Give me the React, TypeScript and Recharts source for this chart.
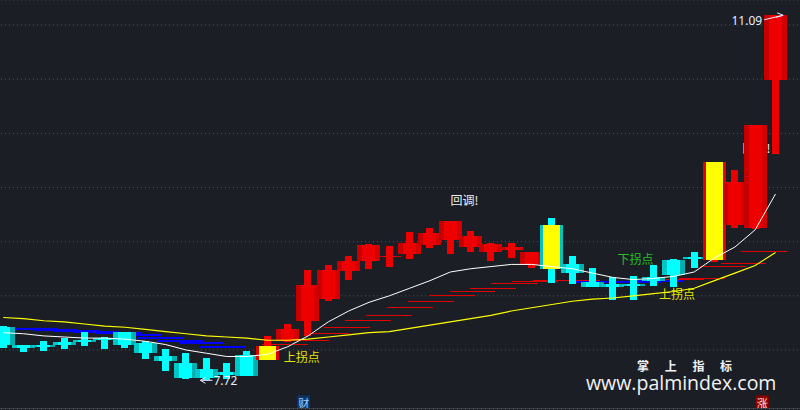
import React from 'react';
import {
  ComposedChart,
  Bar,
  Line,
  XAxis,
  YAxis,
  CartesianGrid,
  ReferenceLine,
  ReferenceDot,
} from 'recharts';

// candles, left to right
const open = [8.21, 8.05, 8.05, 8.07, 8.09, 8.11, 8.17, 8.06, 7.94, 7.88, 7.82, 7.8, 7.95, 7.91, 8.08, 8.27, 8.47, 8.73, 8.82, 8.86, 8.89, 8.97, 9.02, 9.05, 8.98, 8.95, 8.9, 9.15, 8.79, 8.63, 8.61, 8.61, 8.67, 8.83, 8.86, 8.83, 9.15, 9.13, 10.49];
const close = [8.05, 8.02, 8.03, 8.05, 8.07, 8.09, 8.05, 7.97, 7.9, 7.74, 7.74, 7.77, 7.76, 8.04, 8.19, 8.6, 8.74, 8.82, 8.97, 8.87, 8.99, 9.08, 9.19, 8.95, 8.9, 8.92, 8.78, 8.75, 8.71, 8.58, 8.58, 8.59, 8.64, 8.69, 8.84, 9.74, 9.55, 10.08, 11.09];
const high = [8.22, 8.05, 8.08, 8.11, 8.17, 8.12, 8.17, 8.08, 8.01, 7.97, 7.93, 7.88, 7.99, 8.13, 8.24, 8.74, 8.78, 8.87, 8.98, 8.96, 9.09, 9.13, 9.19, 9.1, 8.99, 8.99, 8.9, 9.22, 8.87, 8.76, 8.67, 8.68, 8.78, 8.84, 8.9, 9.74, 9.66, 10.08, 11.09];
const low = [8.02, 7.98, 7.99, 8.01, 8.04, 8.01, 8.02, 7.92, 7.81, 7.73, 7.72, 7.73, 7.76, 7.91, 8.07, 8.13, 8.45, 8.65, 8.75, 8.77, 8.84, 8.94, 8.89, 8.9, 8.82, 8.85, 8.76, 8.62, 8.61, 8.58, 8.46, 8.46, 8.59, 8.58, 8.76, 8.81, 9.13, 9.12, 9.81];
// c = cyan, r = red, yr / yc = yellow signal candle with red / cyan rim
const kind = ['c', 'c', 'c', 'c', 'c', 'c', 'c', 'c', 'c', 'c', 'c', 'c', 'c', 'yr', 'r', 'r', 'r', 'r', 'r', 'r', 'r', 'r', 'r', 'r', 'r', 'r', 'r', 'yc', 'c', 'c', 'c', 'c', 'c', 'c', 'c', 'yr', 'r', 'r', 'r'];

// white and yellow averages
const maFast = [8.16, 8.15, 8.13, 8.12, 8.11, 8.11, 8.1, 8.08, 8.05, 8.0, 7.97, 7.94, 7.94, 7.96, 8.03, 8.13, 8.26, 8.36, 8.44, 8.5, 8.57, 8.64, 8.72, 8.75, 8.77, 8.79, 8.79, 8.77, 8.75, 8.71, 8.67, 8.65, 8.66, 8.68, 8.72, 8.85, 8.95, 9.11, 9.44];
const maSlow = [8.3, 8.29, 8.27, 8.26, 8.24, 8.22, 8.21, 8.19, 8.17, 8.15, 8.13, 8.12, 8.11, 8.09, 8.09, 8.1, 8.12, 8.14, 8.16, 8.17, 8.2, 8.23, 8.26, 8.29, 8.32, 8.36, 8.39, 8.42, 8.45, 8.47, 8.48, 8.5, 8.52, 8.54, 8.57, 8.64, 8.71, 8.78, 8.9];

// short support levels drawn from each candle over the next two
const level = [8.2, 8.19, 8.18, 8.175, 8.17, 8.16, 8.14, 8.11, 8.08, 8.06, 8.03, null, null, 8.05, 8.09, 8.15, 8.21, 8.27, 8.32, 8.39, 8.45, 8.5, 8.54, 8.57, 8.61, 8.63, 8.64, 8.645, 8.63, 8.63, 8.625, 8.635, 8.65, 8.66, 8.77, 8.8, 8.91, 9.12, null];
const levelKind = ['b', 'b', 'b', 'b', 'b', 'b', 'b', 'b', 'b', 'b', 'b', '', '', 'r', 'r', 'r', 'r', 'r', 'r', 'r', 'r', 'r', 'r', 'r', 'r', 'r', 'r', 'r', 'b', 'b', 'b', 'b', 'r', 'r', 'r', 'r', 'r', 'r', ''];

const notes = [
  { i: 22, p: 9.385, text: '回调!' },
  { i: 36, p: 9.865, text: '回调!' },
  { i: 14, p: 7.944, text: '上拐点' },
  { i: 30, p: 8.849, text: '下拐点' },
  { i: 32, p: 8.517, text: '上拐点' },
];
const tags = [
  { i: 15, p: 7.515, text: '财' },
  { i: 37, p: 7.515, text: '涨' },
];
const gridTicks = [8, 8.5, 9, 9.5, 10, 10.5, 11];

const data = [
  ...open.map((o, i) => ({
    t: i,
    o,
    c: close[i],
    h: high[i],
    l: low[i],
    k: kind[i],
    range: [low[i], high[i]],
    ma1: maFast[i],
    ma2: maSlow[i],
  })),
  { t: open.length },
];

const BG = '#1b1e25';
const CJK = '"Noto Sans CJK SC", sans-serif';
const NOTE_COLOR: Record<string, string> = { '回调!': '#f0f0f0', '上拐点': '#e4e400', '下拐点': '#22c222' };
const TAG_STYLE: Record<string, { bg: string; fg: string }> = {
  '财': { bg: '#0b3566', fg: '#a9d2ff' },
  '涨': { bg: '#8a0000', fg: '#ffe0e0' },
};
const PALETTE: Record<string, any> = {
  r: { left: '#c60000', core: '#ee0000', right: '#d40000', wick: '#ee0000' },
  c: { left: '#00c8c8', core: '#00ffff', right: '#00b0b0', wick: '#00ffff' },
  yr: { side: '#e00000', core: '#ffff00', wick: '#ff0000' },
  yc: { side: '#00c2c2', core: '#ffff00', wick: '#00ffff' },
};

function Candle(props: any) {
  const { x, y, width, height, payload } = props;
  if (!payload || payload.o == null) return null;
  const { o, c, h, l, k } = payload;
  const perUnit = height / (h - l);
  const at = (v: number) => y + (h - v) * perUnit;
  const cx = x + width / 2;
  const top = at(Math.max(o, c));
  const bodyH = Math.max(at(Math.min(o, c)) - top, 1.5);
  const p = PALETTE[k];
  const signal = k === 'yr' || k === 'yc';
  return (
    <g shapeRendering="crispEdges">
      <rect x={cx - 3.5} y={y} width={7} height={Math.max(height, 1)} fill={p.wick} />
      {signal ? (
        <>
          <rect x={cx - 11.5} y={top} width={23} height={bodyH} fill={p.side} />
          <rect x={cx - 8.5} y={top} width={17} height={bodyH} fill={p.core} />
        </>
      ) : (
        <>
          <rect x={cx - 11.5} y={top} width={5} height={bodyH} fill={p.left} />
          <rect x={cx - 6.5} y={top} width={13} height={bodyH} fill={p.core} />
          <rect x={cx + 6.5} y={top} width={5} height={bodyH} fill={p.right} />
        </>
      )}
    </g>
  );
}

export default function App() {
  const last = open.length - 1;
  return (
    <div style={{ position: 'relative', width: 800, height: 410, overflow: 'hidden', background: BG }}>
      <style>{`body{margin:0;background:${BG}}`}</style>
      <div style={{ position: 'absolute', left: -7, top: 0 }}>
        <ComposedChart width={813} height={410} data={data} margin={{ top: 0, right: 0, bottom: 0, left: 0 }}>
          <XAxis dataKey="t" type="category" hide />
          <XAxis xAxisId="n" type="number" domain={[-0.5, 39.5]} allowDataOverflow hide />
          <YAxis type="number" domain={[7.446, 11.231]} ticks={gridTicks} allowDataOverflow hide />
          <CartesianGrid vertical={false} stroke="#50535b" strokeDasharray="1 3" />

          {level.map((v, i) =>
            v == null ? null : (
              <ReferenceLine
                key={`lv-${i}`}
                xAxisId="n"
                zIndex={200}
                segment={[{ x: i - 0.1, y: v }, { x: i + 2.1, y: v }]}
                stroke={levelKind[i] === 'b' ? '#0000ff' : '#e00000'}
                strokeWidth={levelKind[i] === 'b' ? 2 : 1}
                shapeRendering="crispEdges"
              />
            )
          )}

          {notes.map((n, idx) => (
            <ReferenceDot
              key={`note-${idx}`}
              xAxisId="n"
              zIndex={200}
              x={n.i}
              y={n.p}
              r={0}
              shape={(s: any) => (
                <text x={s.cx - 1} y={s.cy} fill={NOTE_COLOR[n.text]} fontSize={12} fontFamily={CJK} dominantBaseline="central">
                  {n.text}
                </text>
              )}
            />
          ))}

          <Bar dataKey="range" shape={Candle} isAnimationActive={false} />
          <Line dataKey="ma2" stroke="#ffff00" strokeWidth={1.2} dot={false} activeDot={false} isAnimationActive={false} />
          <Line dataKey="ma1" stroke="#ffffff" strokeWidth={1} dot={false} activeDot={false} isAnimationActive={false} />

          <ReferenceDot
            xAxisId="n"
            x={last}
            y={high[last]}
            r={0}
            shape={(s: any) => (
              <g stroke="#e8eeff" fill="none" strokeWidth={1}>
                <text x={s.cx - 23} y={s.cy + 5} fill="#e8eeff" stroke="none" fontSize={12} fontFamily="Noto Sans" textAnchor="end" dominantBaseline="central">
                  {high[last].toFixed(2)}
                </text>
                <path d={`M${s.cx - 21} ${s.cy + 4.5} L${s.cx - 2} ${s.cy} M${s.cx - 8} ${s.cy - 2.5} L${s.cx - 2} ${s.cy} L${s.cx - 9} ${s.cy + 2}`} />
              </g>
            )}
          />
          <ReferenceDot
            xAxisId="n"
            x={10}
            y={low[10]}
            r={0}
            shape={(s: any) => (
              <g stroke="#e8eeff" fill="none" strokeWidth={1}>
                <path d={`M${s.cx - 1} ${s.cy} L${s.cx + 11} ${s.cy} M${s.cx + 4} ${s.cy - 3} L${s.cx - 1} ${s.cy} L${s.cx + 4} ${s.cy + 3}`} />
                <text x={s.cx + 12} y={s.cy} fill="#e8eeff" stroke="none" fontSize={12} fontFamily="Noto Sans" dominantBaseline="central">
                  {low[10].toFixed(2)}
                </text>
              </g>
            )}
          />

          {tags.map((t) => (
            <ReferenceDot
              key={`tag-${t.i}`}
              xAxisId="n"
              x={t.i}
              y={t.p}
              r={0}
              shape={(s: any) => (
                <g>
                  <rect x={s.cx - 8.5} y={s.cy - 7} width={13} height={13} fill={TAG_STYLE[t.text].bg} />
                  <text x={s.cx - 2} y={s.cy} fill={TAG_STYLE[t.text].fg} fontSize={11} fontFamily={CJK} textAnchor="middle" dominantBaseline="central">
                    {t.text}
                  </text>
                </g>
              )}
            />
          ))}
        </ComposedChart>
      </div>
      <div style={{ position: 'absolute', left: 0, top: 408, width: 800, height: 1, background: '#3c4048' }} />
      <div style={{ position: 'absolute', left: 637, top: 360, fontSize: 12, lineHeight: '12px', fontWeight: 700, letterSpacing: 15.7, color: '#f2f2f2', fontFamily: CJK }}>
        掌上指标
      </div>
      <div style={{ position: 'absolute', left: 586, top: 375, fontSize: 19.5, lineHeight: '16px', color: '#f2f2f2', fontFamily: '"Open Sans", sans-serif' }}>
        www.palmindex.com
      </div>
    </div>
  );
}
